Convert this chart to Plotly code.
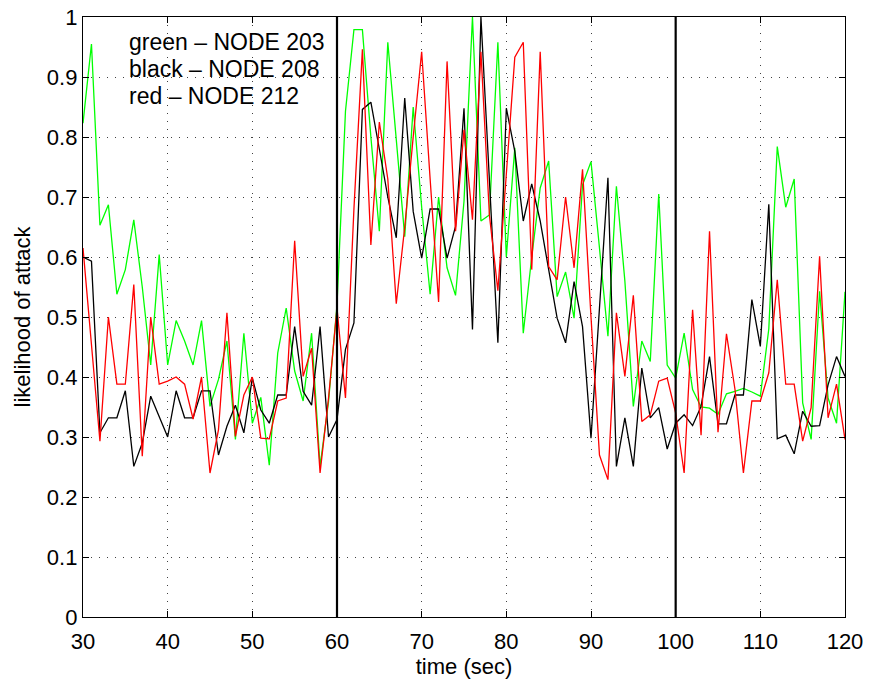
import plotly.graph_objects as go

time_sec = list(range(30, 121))

node203_green = [
    0.823, 0.955, 0.653, 0.687, 0.538, 0.579, 0.662, 0.55, 0.42, 0.604,
    0.42, 0.494, 0.46, 0.42, 0.494, 0.351, 0.396, 0.46, 0.296, 0.473,
    0.323, 0.366, 0.253, 0.44, 0.515, 0.41, 0.36, 0.473, 0.251, 0.359,
    0.52, 0.843, 0.979, 0.979, 0.80, 0.643, 0.958, 0.80, 0.634, 0.85,
    0.683, 0.538, 0.70, 0.582, 0.536, 0.693, 1.0, 0.66, 0.67, 0.958,
    0.60, 0.782, 0.473, 0.60, 0.715, 0.76, 0.534, 0.575, 0.498, 0.72,
    0.759, 0.615, 0.468, 0.718, 0.56, 0.351, 0.46, 0.426, 0.705, 0.42,
    0.398, 0.473, 0.379, 0.35, 0.348, 0.338, 0.372, 0.376, 0.381, 0.375,
    0.368, 0.48, 0.784, 0.683, 0.73, 0.357, 0.296, 0.543, 0.365, 0.323,
    0.542,
]

node208_black = [
    0.60, 0.593, 0.307, 0.332, 0.332, 0.377, 0.251, 0.29, 0.368, 0.334,
    0.30, 0.377, 0.332, 0.332, 0.377, 0.377, 0.27, 0.318, 0.353, 0.307,
    0.398, 0.345, 0.323, 0.37, 0.37, 0.484, 0.376, 0.353, 0.484, 0.30,
    0.329, 0.446, 0.49, 0.846, 0.858, 0.78, 0.70, 0.632, 0.865, 0.676,
    0.598, 0.68, 0.68, 0.598, 0.651, 0.848, 0.479, 1.0, 0.73, 0.457,
    0.848, 0.776, 0.66, 0.722, 0.66, 0.58, 0.498, 0.457, 0.559, 0.484,
    0.298, 0.515, 0.732, 0.251, 0.332, 0.251, 0.415, 0.332, 0.349, 0.28,
    0.323, 0.337, 0.319, 0.351, 0.434, 0.322, 0.322, 0.37, 0.37, 0.529,
    0.451, 0.688, 0.297, 0.303, 0.272, 0.343, 0.318, 0.319, 0.387, 0.434,
    0.401,
]

node212_red = [
    0.615, 0.455, 0.293, 0.50, 0.388, 0.388, 0.554, 0.268, 0.50, 0.388,
    0.393, 0.40, 0.388, 0.33, 0.40, 0.24, 0.312, 0.507, 0.301, 0.37,
    0.40, 0.298, 0.297, 0.36, 0.365, 0.627, 0.401, 0.448, 0.24, 0.365,
    0.515, 0.365, 0.68, 0.946, 0.62, 0.825, 0.73, 0.522, 0.65, 0.80,
    0.942, 0.73, 0.525, 0.926, 0.643, 0.812, 0.662, 0.942, 0.67, 0.544,
    0.74, 0.933, 0.958, 0.579, 0.942, 0.584, 0.562, 0.70, 0.582, 0.746,
    0.50, 0.27, 0.229, 0.507, 0.401, 0.536, 0.326, 0.337, 0.393, 0.398,
    0.34, 0.24, 0.512, 0.303, 0.643, 0.308, 0.472, 0.38, 0.24, 0.36,
    0.36, 0.407, 0.562, 0.388, 0.388, 0.293, 0.349, 0.601, 0.332, 0.388,
    0.296,
]

event_times = [60, 100]
legend_lines = ["green \u2013 NODE 203", "black \u2013 NODE 208", "red \u2013 NODE 212"]
legend_y = [0.958, 0.913, 0.868]
x_ticks = list(range(30, 121, 10))
y_ticks = [round(i * 0.1, 1) for i in range(11)]
y_tick_text = ["0", "0.1", "0.2", "0.3", "0.4", "0.5", "0.6", "0.7", "0.8", "0.9", "1"]

FONT = "Liberation Sans, Arial, Helvetica, sans-serif"

fig = go.Figure()
for ys, col in [(node203_green, "#00ff00"), (node208_black, "#000000"), (node212_red, "#ff0000")]:
    fig.add_trace(go.Scatter(x=time_sec, y=ys, mode="lines",
                             line=dict(color=col, width=1.3), showlegend=False,
                             hoverinfo="skip"))

for t in event_times:
    fig.add_shape(type="line", xref="x", yref="y", x0=t, x1=t, y0=0, y1=1,
                  line=dict(color="black", width=2.2))

for txt, yv in zip(legend_lines, legend_y):
    fig.add_annotation(x=35.2, y=yv, xref="x", yref="y", text=txt,
                       showarrow=False, xanchor="left", yanchor="middle",
                       font=dict(family=FONT, size=23, color="black"))

axis_common = dict(
    showline=True, linecolor="black", linewidth=1.3, mirror="ticks",
    ticks="inside", ticklen=6, tickcolor="black", tickwidth=1,
    showgrid=True, gridcolor="rgba(0,0,0,0.75)", gridwidth=1, griddash="1px,7px",
    zeroline=False, tickfont=dict(family=FONT, size=22, color="black"),
    automargin=False,
)

fig.update_xaxes(range=[30, 120], tickvals=x_ticks, ticklabelstandoff=4,
                 title=dict(text="time (sec)", font=dict(family=FONT, size=22, color="black"), standoff=0),
                 **axis_common)
fig.update_yaxes(range=[0, 1], tickvals=y_ticks, ticktext=y_tick_text,
                 title=dict(text="likelihood of attack", font=dict(family=FONT, size=22, color="black"), standoff=10),
                 **axis_common)

fig.update_layout(
    width=871, height=684,
    margin=dict(l=83, r=26, t=17, b=67),
    paper_bgcolor="white", plot_bgcolor="white",
    showlegend=False,
)

fig.write_html("out.html")
